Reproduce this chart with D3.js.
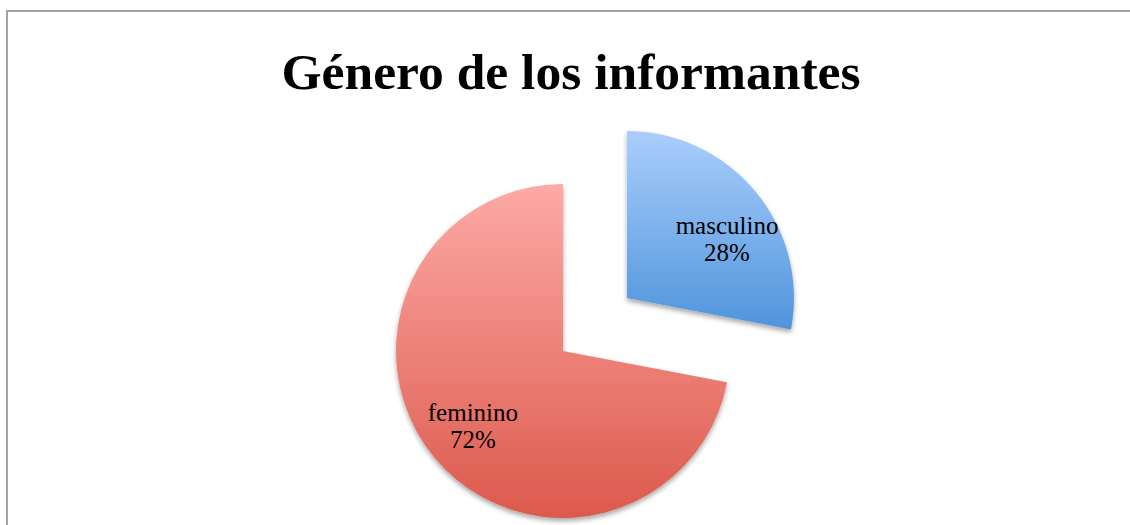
<!DOCTYPE html>
<html><head><meta charset="utf-8">
<script src="https://cdn.jsdelivr.net/npm/d3@7"></script>
<style>html,body{margin:0;padding:0;background:#fff;overflow:hidden}</style>
</head><body>
<svg id="chart" width="1130" height="525"></svg>
<script>
const title = "Género de los informantes";
const categories = ["masculino", "feminino"];
const values = [28, 72];
const exploded = [true, false];
const topColors = ["#aacefc", "#fdaaa6"];
const bottomColors = ["#4f94dc", "#dc594c"];

const svg = d3.select("#chart");
svg.append("rect").attr("x", 7).attr("y", 11).attr("width", 1200).attr("height", 600)
  .attr("fill", "#fff").attr("stroke", "#a3a3a3").attr("stroke-width", 2);

svg.append("text").attr("x", 571).attr("y", 89).attr("text-anchor", "middle")
  .attr("font-family", "Liberation Serif, serif").attr("font-weight", "bold")
  .attr("font-size", 50).attr("textLength", 579).attr("lengthAdjust", "spacingAndGlyphs")
  .attr("fill", "#000").text(title);

const defs = svg.append("defs");
const f = defs.append("filter").attr("id", "shadow").attr("x", "-20%").attr("y", "-20%").attr("width", "140%").attr("height", "140%");
f.append("feGaussianBlur").attr("in", "SourceAlpha").attr("stdDeviation", 2.5).attr("result", "b");
f.append("feOffset").attr("in", "b").attr("dx", 0).attr("dy", 3).attr("result", "o");
f.append("feComponentTransfer").attr("in", "o").attr("result", "o2")
  .append("feFuncA").attr("type", "linear").attr("slope", 0.35);
const m = f.append("feMerge");
m.append("feMergeNode").attr("in", "o2");
m.append("feMergeNode").attr("in", "SourceGraphic");

const data = categories.map((c, i) => ({ cat: c, value: values[i], exploded: exploded[i], i }));
const pie = d3.pie().sort(null).value(d => d.value).startAngle(0).endAngle(2 * Math.PI);
const arcs = pie(data);

const R = 167, explode = 83;
const cx = 563, cy = 351;
const arc = d3.arc().innerRadius(0).outerRadius(R);
const labelArc = d3.arc().innerRadius(R * 0.7).outerRadius(R * 0.7);
const labelNudge = [[10, 15], [0, 0]];

arcs.forEach((a, k) => {
  const g = defs.append("linearGradient").attr("id", "grad" + k)
    .attr("x1", 0).attr("y1", 0).attr("x2", 0).attr("y2", 1);
  g.append("stop").attr("offset", "0%").attr("stop-color", topColors[k]);
  g.append("stop").attr("offset", "100%").attr("stop-color", bottomColors[k]);
});

const slices = svg.selectAll("g.slice").data(arcs).enter().append("g")
  .attr("class", "slice")
  .attr("transform", d => {
    const mid = (d.startAngle + d.endAngle) / 2;
    const off = d.data.exploded ? explode : 0;
    return `translate(${cx + Math.sin(mid) * off},${cy - Math.cos(mid) * off})`;
  });

slices.append("path").attr("d", arc)
  .attr("fill", (d, k) => `url(#grad${k})`)
  .attr("filter", "url(#shadow)");

slices.each(function (d, k) {
  const [lx, ly] = labelArc.centroid(d);
  const t = d3.select(this).append("text")
    .attr("text-anchor", "middle")
    .attr("font-family", "Liberation Serif, serif")
    .attr("font-size", 25).attr("fill", "#000");
  t.append("tspan").attr("x", lx + labelNudge[k][0]).attr("y", ly + labelNudge[k][1] - 5).text(d.data.cat);
  t.append("tspan").attr("x", lx + labelNudge[k][0]).attr("y", ly + labelNudge[k][1] + 22).text(d.data.value + "%");
});
</script>
</body></html>
